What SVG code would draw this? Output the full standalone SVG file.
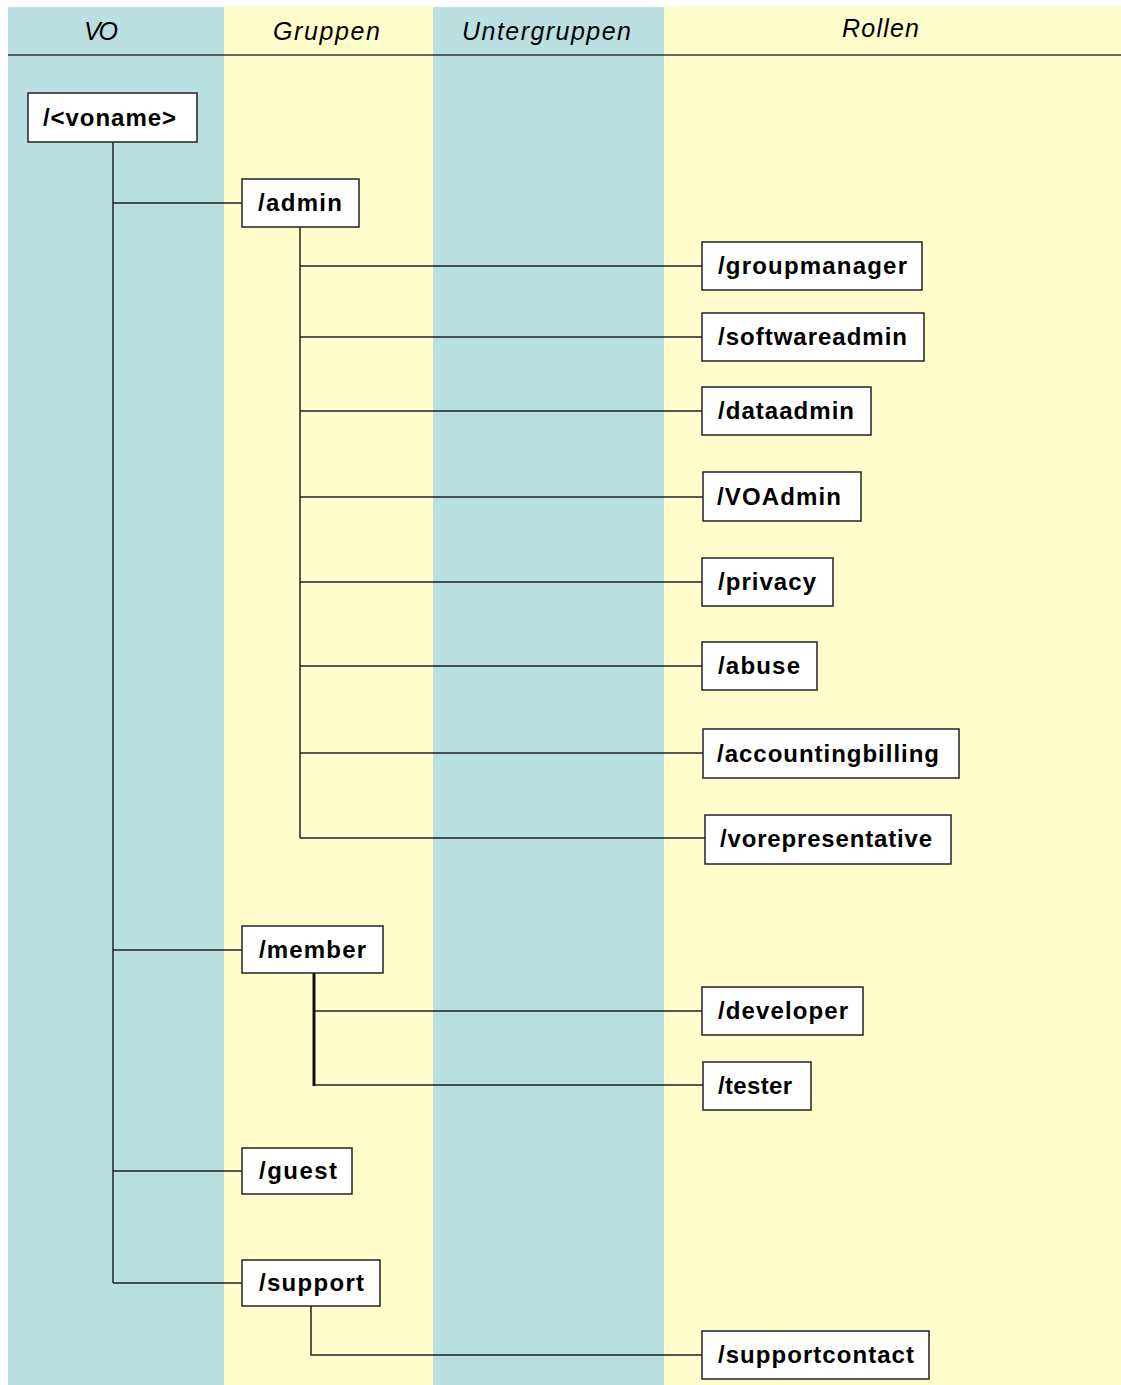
<svg xmlns="http://www.w3.org/2000/svg" width="1121" height="1385" viewBox="0 0 1121 1385">
<style>
.blue{fill:#bae0e2}
.yel{fill:#fffdcc}
.hd{font-family:"Liberation Sans",Arial,sans-serif;font-style:italic;font-size:25px;fill:#000}
.box{fill:#fff;stroke:#222;stroke-width:1.5}
.lbl{font-family:"Liberation Sans",Arial,sans-serif;font-size:24px;font-weight:bold;fill:#000}
.con{stroke:#222;stroke-width:1.5;fill:none}
</style>
<rect x="0" y="0" width="1121" height="1385" fill="#fff"/>
<g id="lanes">
<rect class="blue" x="8" y="7" width="216" height="1378"/>
<rect class="yel" x="224" y="7" width="209" height="1378"/>
<rect class="blue" x="433" y="7" width="231" height="1378"/>
<rect class="yel" x="664" y="7" width="457" height="1378"/>
<line x1="8" y1="55" x2="1121" y2="55" stroke="#333" stroke-width="1.5"/>
<text class="hd" x="84" y="40" textLength="34" lengthAdjust="spacing">VO</text>
<text class="hd" x="273" y="40" textLength="107" lengthAdjust="spacing">Gruppen</text>
<text class="hd" x="462" y="40" textLength="169" lengthAdjust="spacing">Untergruppen</text>
<text class="hd" x="842" y="37" textLength="77" lengthAdjust="spacing">Rollen</text>
</g>
<g id="connectors">
<path class="con" d="M113 142V1283M113 203H242M113 950H242M113 1171H242M113 1283H242"/>
<path class="con" d="M300 227V838M300 266H702M300 337H702M300 411H702M300 497H703M300 582H702M300 666H702M300 753H703M300 838H705"/>
<path class="con" d="M314 1011H702M314 1085H703"/>
<path d="M314 973V1086" stroke="#111" stroke-width="3" fill="none"/>
<path class="con" d="M311 1306V1355H702"/>
</g>
<g id="n-voname"><rect class="box" x="28" y="93" width="169" height="49"/><text class="lbl" x="43" y="126" textLength="133" lengthAdjust="spacing">/&lt;voname&gt;</text></g>
<g id="n-admin"><rect class="box" x="242" y="179" width="117" height="48"/><text class="lbl" x="258" y="211" textLength="84" lengthAdjust="spacing">/admin</text></g>
<g id="n-groupmanager"><rect class="box" x="702" y="242" width="220" height="48"/><text class="lbl" x="718" y="274" textLength="189" lengthAdjust="spacing">/groupmanager</text></g>
<g id="n-softwareadmin"><rect class="box" x="702" y="313" width="222" height="48"/><text class="lbl" x="718" y="345" textLength="189" lengthAdjust="spacing">/softwareadmin</text></g>
<g id="n-dataadmin"><rect class="box" x="702" y="387" width="169" height="48"/><text class="lbl" x="718" y="419" textLength="136" lengthAdjust="spacing">/dataadmin</text></g>
<g id="n-voadmin"><rect class="box" x="703" y="472" width="158" height="49"/><text class="lbl" x="717" y="505" textLength="124" lengthAdjust="spacing">/VOAdmin</text></g>
<g id="n-privacy"><rect class="box" x="702" y="558" width="131" height="48"/><text class="lbl" x="718" y="590" textLength="98" lengthAdjust="spacing">/privacy</text></g>
<g id="n-abuse"><rect class="box" x="702" y="642" width="115" height="48"/><text class="lbl" x="718" y="674" textLength="82" lengthAdjust="spacing">/abuse</text></g>
<g id="n-accountingbilling"><rect class="box" x="703" y="729" width="256" height="49"/><text class="lbl" x="717" y="762" textLength="222" lengthAdjust="spacing">/accountingbilling</text></g>
<g id="n-vorepresentative"><rect class="box" x="705" y="815" width="246" height="49"/><text class="lbl" x="720" y="847" textLength="212" lengthAdjust="spacing">/vorepresentative</text></g>
<g id="n-member"><rect class="box" x="242" y="926" width="141" height="47"/><text class="lbl" x="259" y="958" textLength="107" lengthAdjust="spacing">/member</text></g>
<g id="n-developer"><rect class="box" x="702" y="987" width="161" height="48"/><text class="lbl" x="718" y="1019" textLength="130" lengthAdjust="spacing">/developer</text></g>
<g id="n-tester"><rect class="box" x="703" y="1062" width="108" height="48"/><text class="lbl" x="718" y="1094" textLength="74" lengthAdjust="spacing">/tester</text></g>
<g id="n-guest"><rect class="box" x="242" y="1148" width="110" height="46"/><text class="lbl" x="259" y="1179" textLength="78" lengthAdjust="spacing">/guest</text></g>
<g id="n-support"><rect class="box" x="242" y="1260" width="138" height="46"/><text class="lbl" x="259" y="1291" textLength="105" lengthAdjust="spacing">/support</text></g>
<g id="n-supportcontact"><rect class="box" x="702" y="1331" width="227" height="48"/><text class="lbl" x="718" y="1363" textLength="196" lengthAdjust="spacing">/supportcontact</text></g>
</svg>
